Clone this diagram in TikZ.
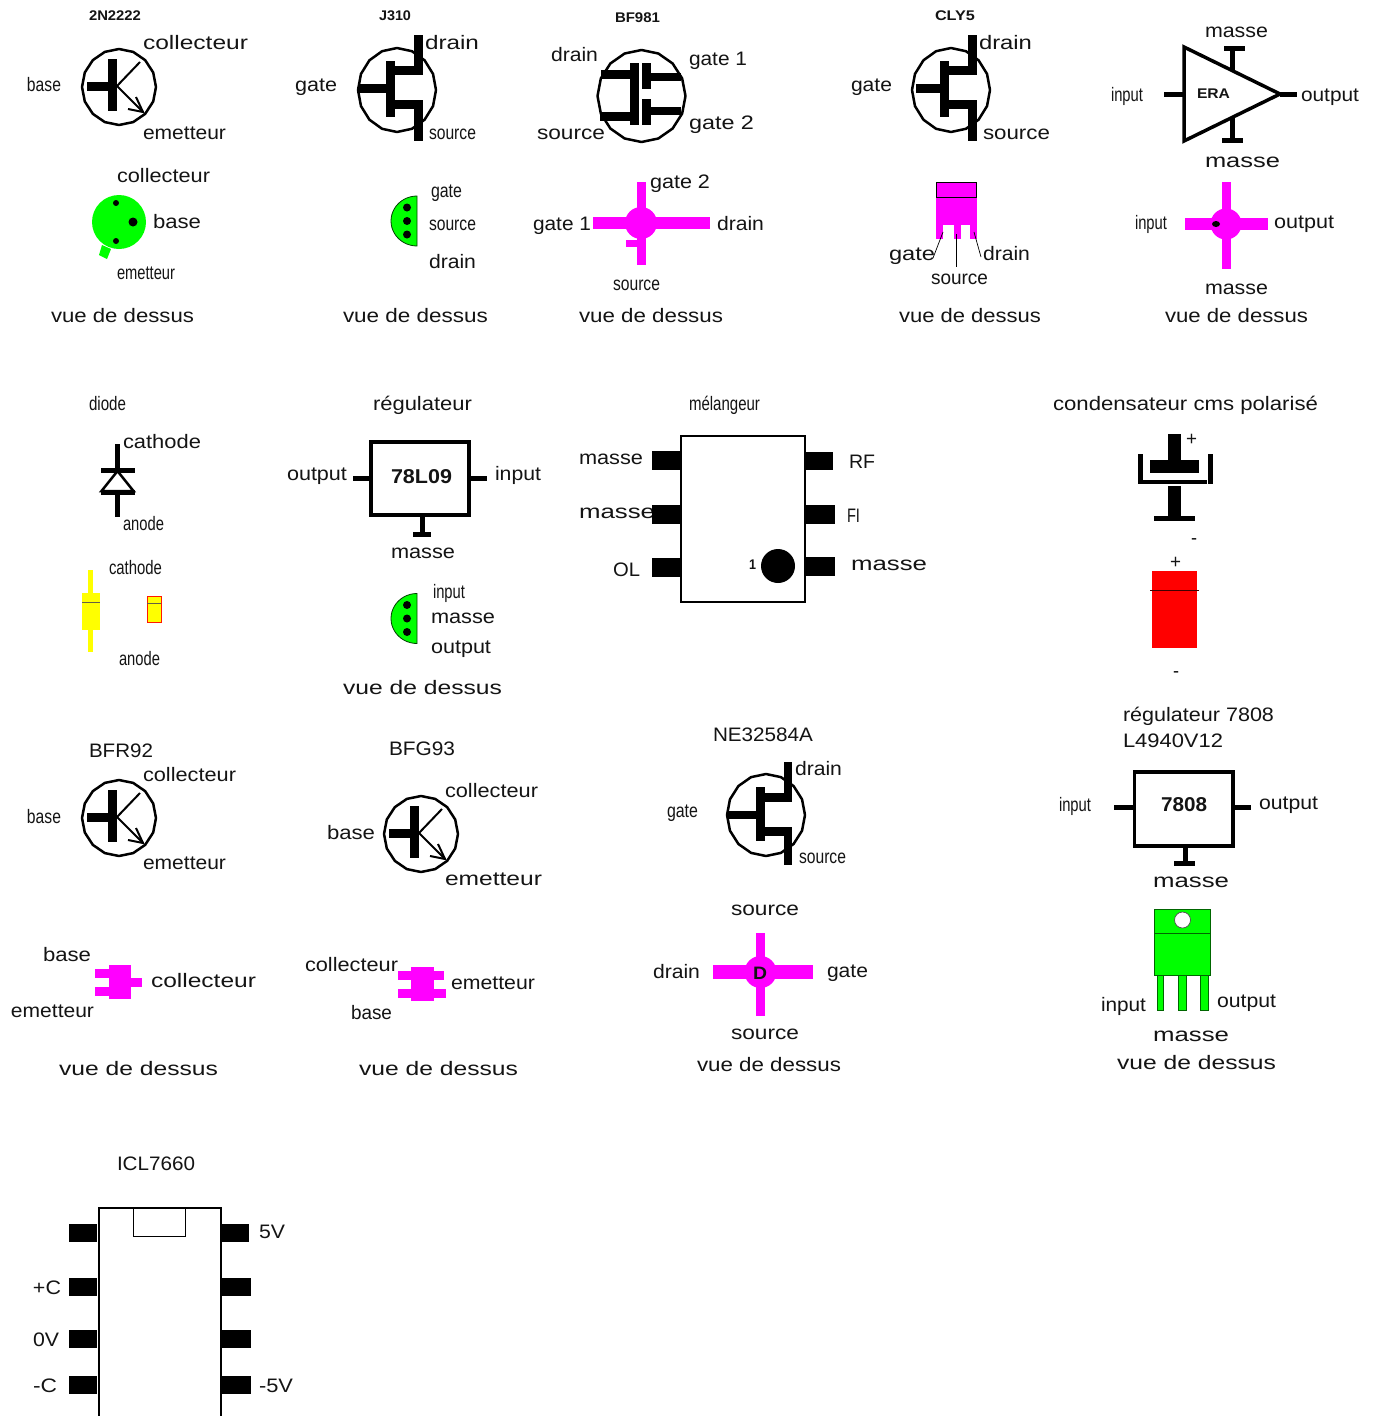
\documentclass[tikz,border=0pt]{standalone}
\usepackage{fontspec}
\usepackage{graphicx}
\setmainfont{Liberation Sans}
\definecolor{mag}{HTML}{FF00FF}
\definecolor{grn}{HTML}{00FF00}
\definecolor{ylw}{HTML}{FFFF00}
\definecolor{rd}{HTML}{FF0000}
\newcounter{lc}
\tikzset{lbl/.style={anchor=base west,inner sep=0pt,outer sep=0pt,text=black!92}}
\newcommand{\rgf}{\fontsize{19.5}{20}\selectfont}
\newcommand{\bsf}{\bfseries\fontsize{14}{14}\selectfont}
\newcommand{\bbf}{\bfseries\fontsize{20}{20}\selectfont}
% \tx[font]{left}{baseline}{right}{text}
\newcommand{\tx}[5][\rgf]{\stepcounter{lc}\pgfmathsetmacro{\twd}{#4-#2}%
  \node[lbl] (t\arabic{lc}) at (#2,#3) {#1\resizebox{\twd pt}{\height}{#5}};}
\newcommand{\br}[4]{\fill (#1,#2) rectangle (#3,#4);}
\newcommand{\polyc}[5]{\draw[line width=#5,line join=round] plot[domain=0:337.5,samples=16] ({#1+#3*cos(\x)},{#2+#4*sin(\x)}) -- cycle;}
\newcommand{\bjtsym}[2]{\begin{scope}[shift={(#1,#2)}]
  \polyc{119}{87}{37}{38}{2.5pt}
  \br{87}{82}{112}{91}\br{108}{59}{117}{111}
  \draw[line width=2pt] (117,86) -- (140,62);
  \draw[line width=2pt] (117,86) -- (143,112);
  \draw[line width=2pt] (136,97) -- (143,112) -- (128,109);
\end{scope}}
\newcommand{\fetsym}[3]{\begin{scope}[shift={(#1,#2)}]
  \polyc{397}{90}{39}{42}{2.5pt}
  \br{#3}{84}{387}{93}\br{386}{61}{395}{117}
  \br{395}{66}{423}{75}\br{414}{35}{423}{75}
  \br{395}{100}{423}{109}\br{414}{100}{423}{141}
\end{scope}}
\newcommand{\cross}[9]{% cx cy r x1 x2 y1 y2 (hbar half) (vbar half)
  \fill[mag] (#1,#2) circle [radius=#3];
  \fill[mag] (#4,#2-#8) rectangle (#5,#2+#8);
  \fill[mag] (#1-#9,#6) rectangle (#1+#9,#7);}
\newcommand{\halfd}[3]{\filldraw[fill=grn,draw=black!75!green,line width=0.8pt] plot[domain=90:270,samples=25] ({#1+26*cos(\x)},{#2-25*sin(\x)}) -- cycle;
  \fill (#1-10,#2-#3) circle [radius=4];\fill (#1-10,#2) circle [radius=4];\fill (#1-10,#2+#3) circle [radius=4];}
\begin{document}
\begin{tikzpicture}[x=1pt,y=-1pt]
\useasboundingbox (0,0) rectangle (1376,1416);
\clip (0,0) rectangle (1376,1416);
\fill[white] (0,0) rectangle (1376,1416);

% ---------- row 1 : 2N2222
\tx[\bsf]{89}{20}{141}{2N2222}
\tx{143}{49}{248}{collecteur}
\tx{27}{91}{61}{base}
\tx{143}{139}{226}{emetteur}
\tx{117}{182}{210}{collecteur}
\tx{153}{228}{201}{base}
\tx{117}{279}{175}{emetteur}
\tx{51}{322}{194}{vue de dessus}
\bjtsym{0}{0}
\fill[grn] (102,245) -- (111,249) -- (107,259) -- (99,255) -- cycle;
\fill[grn] (119,222) circle [radius=27];
\fill (116,203) circle [radius=3];
\fill (133,222) circle [radius=4.5];
\fill (116,241) circle [radius=3];

% J310
\tx[\bsf]{379}{20}{411}{J310}
\tx{425}{49}{479}{drain}
\tx{295}{91}{337}{gate}
\tx{429}{139}{476}{source}
\tx{431}{197}{462}{gate}
\tx{429}{230}{476}{source}
\tx{429}{268}{476}{drain}
\tx{343}{322}{488}{vue de dessus}
\fetsym{0}{0}{358}
\halfd{417}{221}{13.5}

% BF981
\tx[\bsf]{615}{22}{660}{BF981}
\tx{551}{61}{598}{drain}
\tx{689}{65}{747}{gate 1}
\tx{537}{139}{605}{source}
\tx{689}{129}{754}{gate 2}
\tx{650}{188}{710}{gate 2}
\tx{533}{230}{591}{gate 1}
\tx{717}{230}{764}{drain}
\tx{613}{290}{660}{source}
\tx{579}{322}{723}{vue de dessus}
\polyc{641.5}{96}{44}{46}{2.5pt}
\br{601}{70}{639}{79}\br{600}{112}{639}{121}\br{630}{63}{639}{125}
\br{642}{63}{651}{89}\br{642}{99}{651}{125}
\br{651}{73}{681}{81}\br{651}{107}{681}{115}
\cross{641}{223}{16}{593}{710}{182}{265}{6}{4.5}
\fill[mag] (626,240) rectangle (637,247);

% CLY5
\tx[\bsf]{935}{20}{975}{CLY5}
\tx{979}{49}{1032}{drain}
\tx{851}{91}{892}{gate}
\tx{983}{139}{1050}{source}
\tx{889}{260}{935}{gate}
\tx{983}{260}{1030}{drain}
\tx{931}{284}{988}{source}
\tx{899}{322}{1041}{vue de dessus}
\fetsym{554}{0}{362}
\fill[mag] (936,197) rectangle (977,225);
\fill[mag] (936,224) rectangle (943,239);
\fill[mag] (954,224) rectangle (961,239);
\fill[mag] (970,224) rectangle (977,239);
\filldraw[fill=mag,draw=black,line width=0.9pt] (936.5,182.5) rectangle (976.5,197);
\draw[line width=0.7pt] (943,232) -- (933,258);
\draw[line width=0.7pt] (956.5,234) -- (956.5,267);
\draw[line width=0.7pt] (974,232) -- (981,257);

% ERA
\tx{1205}{37}{1268}{masse}
\tx{1111}{101}{1143}{input}
\tx[\bsf]{1197}{98}{1230}{ERA}
\tx{1301}{101}{1359}{output}
\tx{1205}{167}{1280}{masse}
\tx{1135}{229}{1167}{input}
\tx{1274}{228}{1334}{output}
\tx{1205}{294}{1268}{masse}
\tx{1165}{322}{1308}{vue de dessus}
\draw[line width=3.5pt,line join=miter] (1184,47) -- (1184,141) -- (1280,94) -- cycle;
\br{1164}{92}{1184}{97}\br{1280}{92}{1297}{97}
\br{1230}{48}{1235}{71}\br{1224}{46}{1245}{51}
\br{1230}{117}{1235}{140}\br{1222}{138}{1243}{143}
\cross{1226}{224}{15.5}{1185}{1268}{182}{269}{6}{4.5}
\fill (1216,224) circle [x radius=4,y radius=3];

% ---------- row 2 : diode
\tx{89}{410}{126}{diode}
\tx{123}{448}{201}{cathode}
\tx{123}{530}{164}{anode}
\tx{109}{574}{162}{cathode}
\tx{119}{665}{160}{anode}
\br{115}{444}{120}{468}\br{101}{468}{135}{473}
\draw[line width=2.5pt] (117.5,471) -- (101.5,491) -- (133.5,491) -- cycle;
\br{101}{490}{135}{495}\br{115}{495}{120}{517}
\fill[ylw] (88,570) rectangle (93,652);
\fill[ylw] (82,593) rectangle (99.5,630);
\draw[black!70!yellow,line width=0.8pt] (82,602) -- (99.5,602);
\filldraw[fill=ylw,draw=rd!80!orange,line width=0.9pt] (147,596) rectangle (161,622);
\draw[black!70!yellow,line width=0.8pt] (147,603.5) -- (161,603.5);

% regulateur 78L09
\tx{373}{410}{472}{régulateur}
\tx{287}{480}{347}{output}
\tx[\bbf]{391}{483}{452}{78L09}
\tx{495}{480}{541}{input}
\tx{391}{558}{455}{masse}
\tx{433}{598}{465}{input}
\tx{431}{623}{495}{masse}
\tx{431}{653}{491}{output}
\tx{343}{694}{502}{vue de dessus}
\draw[line width=3.5pt] (371,442) rectangle (469,515);
\br{353}{476}{371}{481}\br{469}{476}{487}{481}
\br{419.5}{515}{424.5}{534}\br{413}{532}{431}{537}
\halfd{417}{618.5}{13.5}

% melangeur
\tx{689}{410}{760}{mélangeur}
\tx{579}{464}{643}{masse}
\tx{579}{518}{655}{masse}
\tx{613}{576}{640}{OL}
\tx{849}{468}{875}{RF}
\tx{847}{522}{860}{FI}
\tx[\bsf]{749}{569}{756}{1}
\tx{851}{570}{927}{masse}
\draw[line width=1.5pt] (681,436) rectangle (805,602);
\br{652}{451}{681}{470}\br{652}{505}{681}{524}\br{652}{558}{681}{577}
\br{804}{452}{833}{470}\br{805}{505}{835}{524}\br{805}{557}{835}{576}
\fill (778,566) circle [radius=17];

% condensateur
\tx{1053}{410}{1318}{condensateur cms polarisé}
\tx{1186}{445}{1197}{+}
\tx{1191}{544}{1197}{-}
\tx{1170}{568}{1181}{+}
\tx{1173}{677}{1179}{-}
\br{1168}{434}{1181}{460}\br{1150}{460}{1199}{473}
\br{1138}{454}{1143}{484}\br{1138}{480}{1207}{484}\br{1208}{454}{1213}{484}
\br{1168}{486}{1181}{516}\br{1154}{516}{1195}{521}
\fill[rd] (1152,571) rectangle (1197,648);
\draw[black!75!red,line width=0.8pt] (1150,590) -- (1199,590);

% ---------- row 3 : BFR92
\tx{89}{757}{153}{BFR92}
\tx{143}{781}{236}{collecteur}
\tx{27}{823}{61}{base}
\tx{143}{869}{226}{emetteur}
\tx{43}{961}{91}{base}
\tx{151}{987}{256}{collecteur}
\tx{11}{1017}{94}{emetteur}
\tx{59}{1075}{218}{vue de dessus}
\bjtsym{0}{731}
\fill[mag] (109,965) rectangle (131,999);
\fill[mag] (95,969) rectangle (109,978);
\fill[mag] (95,987) rectangle (109,996);
\fill[mag] (131,978) rectangle (142,987);

% BFG93
\tx{389}{755}{455}{BFG93}
\tx{445}{797}{538}{collecteur}
\tx{327}{839}{375}{base}
\tx{445}{885}{542}{emetteur}
\tx{305}{971}{398}{collecteur}
\tx{451}{989}{535}{emetteur}
\tx{351}{1019}{392}{base}
\tx{359}{1075}{518}{vue de dessus}
\bjtsym{302}{747}
\fill[mag] (411,967) rectangle (434,1001);
\fill[mag] (398,971) rectangle (411,980);
\fill[mag] (398,989) rectangle (411,998);
\fill[mag] (434,971) rectangle (444,980);
\fill[mag] (434,989) rectangle (446,998);

% NE32584A
\tx{713}{741}{813}{NE32584A}
\tx{795}{775}{842}{drain}
\tx{667}{817}{698}{gate}
\tx{799}{863}{846}{source}
\tx{731}{915}{799}{source}
\tx{653}{978}{700}{drain}
\tx{827}{977}{868}{gate}
\tx{731}{1039}{799}{source}
\tx{697}{1071}{841}{vue de dessus}
\polyc{766}{815}{39}{41}{2.5pt}
\br{728}{811}{757}{819}\br{756}{787}{765}{841}
\br{765}{793}{792}{802}\br{784}{762}{792}{802}
\br{765}{827}{792}{836}\br{784}{827}{792}{865}
\cross{760.5}{972}{16}{712.5}{812.5}{933}{1016}{7}{4.5}
\tx[\bfseries\fontsize{18}{18}\selectfont]{753}{979}{767}{D}

% regulateur 7808
\tx{1123}{721}{1274}{régulateur 7808}
\tx{1123}{747}{1223}{L4940V12}
\tx{1059}{811}{1091}{input}
\tx[\bbf]{1161}{811}{1207}{7808}
\tx{1259}{809}{1318}{output}
\tx{1153}{887}{1229}{masse}
\tx{1101}{1011}{1146}{input}
\tx{1217}{1007}{1276}{output}
\tx{1153}{1041}{1229}{masse}
\tx{1117}{1069}{1276}{vue de dessus}
\draw[line width=3.5pt] (1134.5,772) rectangle (1233,846);
\br{1114}{804.5}{1134}{809.5}\br{1233}{804.5}{1251}{809.5}
\br{1182.5}{846}{1187.5}{863}\br{1174}{860.5}{1195}{865.5}
\filldraw[fill=grn,draw=black!60!green,line width=0.9pt] (1157,975) rectangle (1163,1010.5);
\filldraw[fill=grn,draw=black!60!green,line width=0.9pt] (1178.5,975) rectangle (1186,1010.5);
\filldraw[fill=grn,draw=black!60!green,line width=0.9pt] (1200.5,975) rectangle (1208,1010.5);
\filldraw[fill=grn,draw=black!60!green,line width=0.9pt] (1154.5,909.5) rectangle (1210.5,975);
\draw[black!60!green,line width=0.9pt] (1154.5,933) -- (1210.5,933);
\filldraw[fill=white,draw=black!70,line width=0.7pt] (1182.5,920) circle [radius=8];

% ---------- ICL7660
\tx{117}{1170}{195}{ICL7660}
\tx{259}{1238}{285}{5V}
\tx{33}{1294}{61}{+C}
\tx{33}{1346}{59}{0V}
\tx{33}{1392}{57}{-C}
\tx{259}{1392}{293}{-5V}
\draw[line width=1.5pt] (99,1208) rectangle (221,1440);
\draw[line width=1pt] (133,1208.5) rectangle (185,1236.5);
\br{69}{1224}{97}{1242}\br{69}{1278}{97}{1296}\br{69}{1330}{97}{1348}\br{69}{1376}{97}{1394}
\br{221}{1224}{249}{1242}\br{222}{1278}{251}{1296}\br{222}{1330}{251}{1348}\br{222}{1376}{251}{1394}
\end{tikzpicture}
\end{document}
